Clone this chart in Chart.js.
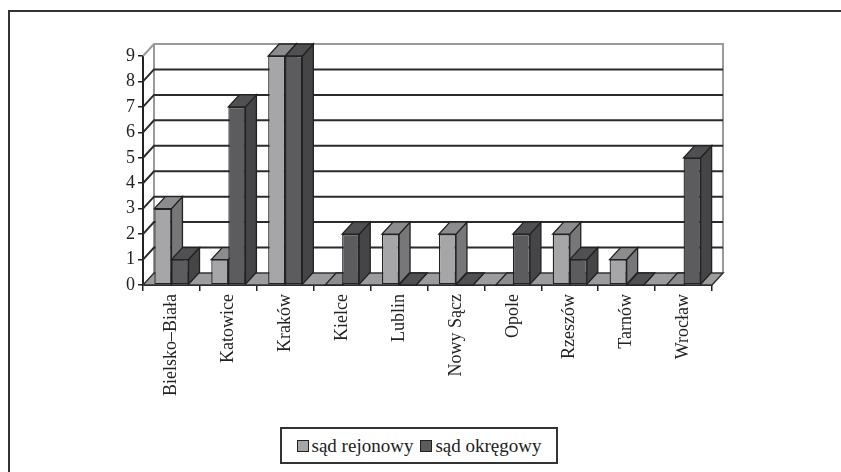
<!DOCTYPE html>
<html>
<head>
<meta charset="utf-8">
<script src="https://cdn.jsdelivr.net/npm/chart.js@4.4.1/dist/chart.umd.min.js"></script>
<style>
  html, body { margin: 0; padding: 0; background: #fff; }
  #wrap { position: relative; width: 841px; height: 472px; overflow: hidden; }
  #frame { position: absolute; left: 8px; top: 10px; width: 900px; height: 500px;
           border-left: 2px solid #333; border-top: 2px solid #333; }
  #chart { position: absolute; left: 0; top: 0; }
  #legend { position: absolute; left: 280px; top: 427px; width: 274px; height: 33px;
            border: 2px solid #333; display: flex; align-items: center; justify-content: center;
            font-family: "Liberation Serif", "Times New Roman", "DejaVu Serif", serif; font-size: 19px;
            color: #222; background: #fff; }
  .sw { display: inline-block; width: 10px; height: 10px; border: 1.5px solid #222; margin: 0 3px 0 7px; }
  .sw:first-child { margin-left: 0; }
</style>
</head>
<body>
<div id="wrap">
  <div id="frame"></div>
  <canvas id="chart" width="841" height="472"></canvas>
  <div id="legend"></div>
</div>
<script>
// dane
const categories = ['Bielsko–Biała', 'Katowice', 'Kraków', 'Kielce', 'Lublin', 'Nowy Sącz', 'Opole', 'Rzeszów', 'Tarnów', 'Wrocław'];
const sadRejonowy = [3, 1, 9, 0, 2, 2, 0, 2, 1, 0];
const sadOkregowy = [1, 7, 9, 2, 0, 0, 2, 1, 0, 5];
const yTicks = [0, 1, 2, 3, 4, 5, 6, 7, 8, 9];
const seriesNames = ['sąd rejonowy', 'sąd okręgowy'];

// kolory
const frontColors = ['#a6a6a8', '#5c5c5e'];
const topColors = ['#8c8c8e', '#505052'];
const sideColors = ['#77777a', '#454547'];
const DX = 11, DY = -12;   // glebia 3D

function poly(ctx, pts, fill) {
  ctx.beginPath();
  ctx.moveTo(pts[0][0], pts[0][1]);
  for (let k = 1; k < pts.length; k++) ctx.lineTo(pts[k][0], pts[k][1]);
  ctx.closePath();
  if (fill) { ctx.fillStyle = fill; ctx.fill(); }
  ctx.stroke();
}

const bars3d = {
  id: 'bars3d',
  beforeDatasetsDraw(chart) {
    const ctx = chart.ctx, a = chart.chartArea, ys = chart.scales.y;
    const b = ys.getPixelForValue(0);
    const t = ys.getPixelForValue(yTicks[yTicks.length - 1]);
    ctx.save();
    // sciany
    ctx.strokeStyle = '#9a9a9a';
    ctx.lineWidth = 2;
    ctx.beginPath();
    ctx.moveTo(a.left, t); ctx.lineTo(a.left + DX, t + DY);
    ctx.lineTo(a.right + DX, t + DY); ctx.lineTo(a.right + DX, b + DY);
    ctx.moveTo(a.left + DX, t + DY); ctx.lineTo(a.left + DX, b + DY);
    ctx.stroke();
    // linie siatki
    yTicks.forEach(v => {
      if (v === 0 || v === yTicks[yTicks.length - 1]) return;
      const py = ys.getPixelForValue(v);
      ctx.strokeStyle = '#2b2b2b';
      ctx.lineWidth = 2;
      ctx.beginPath();
      ctx.moveTo(a.left, py); ctx.lineTo(a.left + DX, py + DY); ctx.lineTo(a.right + DX, py + DY);
      ctx.stroke();
    });
    // podloga
    ctx.strokeStyle = '#333';
    ctx.lineWidth = 1.5;
    poly(ctx, [[a.left, b], [a.right, b], [a.right + DX, b + DY], [a.left + DX, b + DY]], '#9c9c9e');
    // gora i bok slupkow
    ctx.strokeStyle = '#222';
    ctx.lineWidth = 1.3;
    for (let i = 0; i < chart.data.labels.length; i++) {
      chart.data.datasets.forEach((ds, d) => {
        const el = chart.getDatasetMeta(d).data[i];
        const p = el.getProps(['x', 'y', 'base', 'width'], true);
        const l = p.x - p.width / 2, r = p.x + p.width / 2;
        poly(ctx, [[r, p.y], [r + DX, p.y + DY], [r + DX, p.base + DY], [r, p.base]], sideColors[d]);
        poly(ctx, [[l, p.y], [r, p.y], [r + DX, p.y + DY], [l + DX, p.y + DY]], topColors[d]);
      });
    }
    ctx.restore();
  }
};

const serifFamily = '"Liberation Serif", "Times New Roman", "DejaVu Serif", serif';

new Chart(document.getElementById('chart').getContext('2d'), {
  type: 'bar',
  data: {
    labels: categories,
    datasets: [
      { label: seriesNames[0], data: sadRejonowy, backgroundColor: frontColors[0] },
      { label: seriesNames[1], data: sadOkregowy, backgroundColor: frontColors[1] }
    ]
  },
  options: {
    responsive: false,
    animation: false,
    datasets: {
      bar: { categoryPercentage: 0.6, barPercentage: 1, borderColor: '#222', borderWidth: 1.3, borderSkipped: false }
    },
    layout: { padding: { left: 0, right: 129, top: 56, bottom: 37 } },
    plugins: { legend: { display: false }, tooltip: { enabled: false } },
    scales: {
      x: {
        ticks: { color: '#222', font: { family: serifFamily, size: 18 }, minRotation: 90, maxRotation: 90, autoSkip: false, padding: 3 },
        grid: { drawOnChartArea: false, color: '#222', lineWidth: 1.5, tickLength: 6, offset: true },
        border: { display: true, color: '#222', width: 2 },
        afterFit(s) { s.height = 150; }
      },
      y: {
        min: 0, max: 9,
        ticks: { stepSize: 1, color: '#222', font: { family: serifFamily, size: 18 }, padding: 3 },
        grid: { drawOnChartArea: false, color: '#222', lineWidth: 1.5, tickLength: 5 },
        border: { display: true, color: '#222', width: 2 },
        afterFit(s) { s.width = 143; }
      }
    }
  },
  plugins: [bars3d]
});

// legenda
const leg = document.getElementById('legend');
seriesNames.forEach((name, d) => {
  const sw = document.createElement('span');
  sw.className = 'sw';
  sw.style.background = frontColors[d];
  leg.appendChild(sw);
  const tx = document.createElement('span');
  tx.textContent = name;
  leg.appendChild(tx);
});
</script>
</body>
</html>
